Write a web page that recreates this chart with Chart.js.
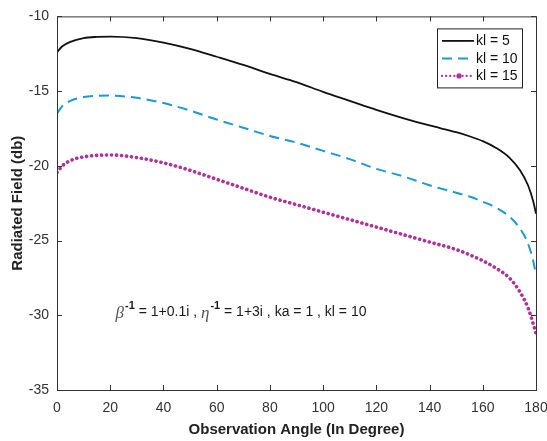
<!DOCTYPE html>
<html>
<head>
<meta charset="utf-8">
<script src="https://cdn.jsdelivr.net/npm/chart.js@4"></script>
<style>
  html, body { margin: 0; padding: 0; background: #fff; }
  canvas { display: block; }
</style>
</head>
<body>
<canvas id="fieldChart" width="547" height="441"></canvas>
<script>
// Observation angles (degrees) at which the curves were read
const angles = [0, 2, 5, 10, 15, 20, 30, 40, 50, 60, 70, 80, 90, 100, 110, 120, 130, 140, 150, 155, 160, 165, 170, 174, 177, 179, 180];

// Radiated field (db) for each kl
const kl5  = [-12.4, -12.0, -11.7, -11.45, -11.37, -11.35, -11.45, -11.75, -12.17, -12.7, -13.25, -13.85, -14.4, -15.05, -15.65, -16.25, -16.8, -17.3, -17.75, -18.02, -18.35, -18.8, -19.45, -20.3, -21.3, -22.4, -23.2];
const kl10 = [-16.5, -16.0, -15.65, -15.4, -15.32, -15.3, -15.45, -15.8, -16.3, -16.9, -17.45, -18.0, -18.45, -19.0, -19.55, -20.2, -20.7, -21.3, -21.8, -22.05, -22.4, -22.8, -23.4, -24.2, -25.2, -26.4, -27.3];
const kl15 = [-20.45, -20.0, -19.65, -19.4, -19.3, -19.27, -19.45, -19.8, -20.3, -20.9, -21.5, -22.1, -22.6, -23.1, -23.6, -24.1, -24.6, -25.1, -25.6, -25.95, -26.35, -26.85, -27.5, -28.45, -29.5, -30.6, -31.2];

const seriesLabels = ['kl = 5', 'kl = 10', 'kl = 15'];
const xTicks = [0, 20, 40, 60, 80, 100, 120, 140, 160, 180];
const yTicks = [-35, -30, -25, -20, -15, -10];

const annotationParts = [
    { text: 'β', kind: 'greek' },
    { text: '-1', kind: 'sup' },
    { text: ' = 1+0.1i , ', kind: 'plain' },
    { text: 'η', kind: 'greek' },
    { text: '-1', kind: 'sup' },
    { text: ' = 1+3i , ka = 1 , kl = 10', kind: 'plain' }
];

function points(values) {
    return angles.map((a, i) => ({ x: a, y: values[i] }));
}

// MATLAB style box with inward tick marks
const boxTicks = {
    id: 'boxTicks',
    afterDraw(chart) {
        const { ctx, chartArea: a, scales } = chart;
        ctx.save();
        ctx.strokeStyle = '#333';
        ctx.lineWidth = 1;
        ctx.strokeRect(a.left + 0.5, a.top + 0.5, a.right - a.left, a.bottom - a.top);
        ctx.beginPath();
        xTicks.forEach(v => {
            const x = Math.round(scales.x.getPixelForValue(v)) + 0.5;
            ctx.moveTo(x, a.bottom); ctx.lineTo(x, a.bottom - 5);
            ctx.moveTo(x, a.top); ctx.lineTo(x, a.top + 5);
        });
        yTicks.forEach(v => {
            const y = Math.round(scales.y.getPixelForValue(v)) + 0.5;
            ctx.moveTo(a.left, y); ctx.lineTo(a.left + 5, y);
            ctx.moveTo(a.right, y); ctx.lineTo(a.right - 5, y);
        });
        ctx.stroke();
        ctx.restore();
    }
};

// Legend box in the upper right corner of the plot
const boxLegend = {
    id: 'boxLegend',
    afterDraw(chart) {
        const { ctx, chartArea: a } = chart;
        const w = 85, h = 59;
        const left = a.right - 14 - w, top = a.top + 12;
        ctx.save();
        ctx.fillStyle = '#fff';
        ctx.fillRect(left, top, w, h);
        ctx.strokeStyle = '#222';
        ctx.lineWidth = 1;
        ctx.strokeRect(left + 0.5, top + 0.5, w, h);
        ctx.font = '14px "Liberation Sans", Arial, sans-serif';
        ctx.textBaseline = 'middle';
        chart.data.datasets.forEach((ds, i) => {
            const y = top + 12.5 + i * 17.5;
            ctx.save();
            ctx.strokeStyle = ds.borderColor;
            ctx.lineWidth = ds.borderWidth;
            ctx.lineCap = ds.borderCapStyle || 'butt';
            ctx.setLineDash(i === 2 ? [0.1, 4] : (ds.borderDash || []));
            if (i === 2) ctx.lineWidth = 2.2;
            ctx.beginPath();
            ctx.moveTo(left + 5, y);
            ctx.lineTo(left + 37, y);
            ctx.stroke();
            if (i === 2) {
                ctx.setLineDash([]);
                ctx.fillStyle = ds.borderColor;
                ctx.beginPath();
                ctx.arc(left + 22, y, 2.6, 0, Math.PI * 2);
                ctx.fill();
            }
            ctx.restore();
            ctx.fillStyle = '#111';
            ctx.fillText(ds.label, left + 39, y + 0.5);
        });
        ctx.restore();
    }
};

// Parameter annotation inside the plot
const paramText = {
    id: 'paramText',
    afterDraw(chart) {
        const { ctx, scales } = chart;
        let x = scales.x.getPixelForValue(22);
        const y = scales.y.getPixelForValue(-30) - 3;
        ctx.save();
        ctx.textBaseline = 'middle';
        annotationParts.forEach(p => {
            let dy = 0;
            if (p.kind === 'greek') {
                ctx.font = 'italic 17px "Liberation Serif", "DejaVu Serif", serif';
                ctx.fillStyle = '#555';
                dy = 1;
            } else if (p.kind === 'sup') {
                ctx.font = 'bold 11px "Liberation Sans", Arial, sans-serif';
                ctx.fillStyle = '#1a1a1a';
                dy = -6;
                x += 1;
            } else {
                ctx.font = '14px "Liberation Sans", Arial, sans-serif';
                ctx.fillStyle = '#1a1a1a';
            }
            ctx.fillText(p.text, x, y + dy);
            x += ctx.measureText(p.text).width;
        });
        ctx.restore();
    }
};

const ctx = document.getElementById('fieldChart').getContext('2d');
const fieldChart = new Chart(ctx, {
    type: 'line',
    data: {
        datasets: [{
            label: seriesLabels[0],
            data: points(kl5),
            borderColor: '#111111',
            borderWidth: 1.8
        }, {
            label: seriesLabels[1],
            data: points(kl10),
            borderColor: '#1b97db',
            borderWidth: 2,
            borderDash: [10, 6]
        }, {
            label: seriesLabels[2],
            data: points(kl15),
            borderColor: '#b0309c',
            borderWidth: 3.6,
            borderDash: [0.1, 4.9],
            borderCapStyle: 'round'
        }]
    },
    options: {
        responsive: false,
        animation: false,
        cubicInterpolationMode: 'monotone',
        pointRadius: 0,
        layout: { padding: { top: 15, right: 0, left: 0, bottom: 0 } },
        plugins: {
            legend: { display: false },
            tooltip: { enabled: false }
        },
        scales: {
            x: {
                type: 'linear',
                min: 0,
                max: 180,
                afterFit: scale => {
                    scale.height = 51;
                    scale.paddingLeft = 0;
                    scale.paddingRight = 11;
                },
                afterBuildTicks: scale => { scale.ticks = xTicks.map(v => ({ value: v })); },
                grid: { display: false, drawTicks: false },
                border: { display: false },
                ticks: {
                    padding: 10,
                    color: '#333',
                    font: { family: '"Liberation Sans", Arial, sans-serif', size: 14 }
                },
                title: {
                    display: true,
                    text: 'Observation Angle (In Degree)',
                    color: '#222',
                    font: { family: '"Liberation Sans", Arial, sans-serif', size: 15, weight: 'bold' },
                    padding: { top: 0, bottom: 2 }
                }
            },
            y: {
                min: -35,
                max: -10,
                afterFit: scale => { scale.width = 57; },
                afterBuildTicks: scale => { scale.ticks = yTicks.map(v => ({ value: v })); },
                grid: { display: false, drawTicks: false },
                border: { display: false },
                ticks: {
                    padding: 8,
                    color: '#333',
                    font: { family: '"Liberation Sans", Arial, sans-serif', size: 14 }
                },
                title: {
                    display: true,
                    text: 'Radiated Field (db)',
                    color: '#222',
                    font: { family: '"Liberation Sans", Arial, sans-serif', size: 15, weight: 'bold' },
                    padding: { top: 9, bottom: 0 }
                }
            }
        }
    },
    plugins: [boxTicks, boxLegend, paramText]
});
</script>
</body>
</html>
